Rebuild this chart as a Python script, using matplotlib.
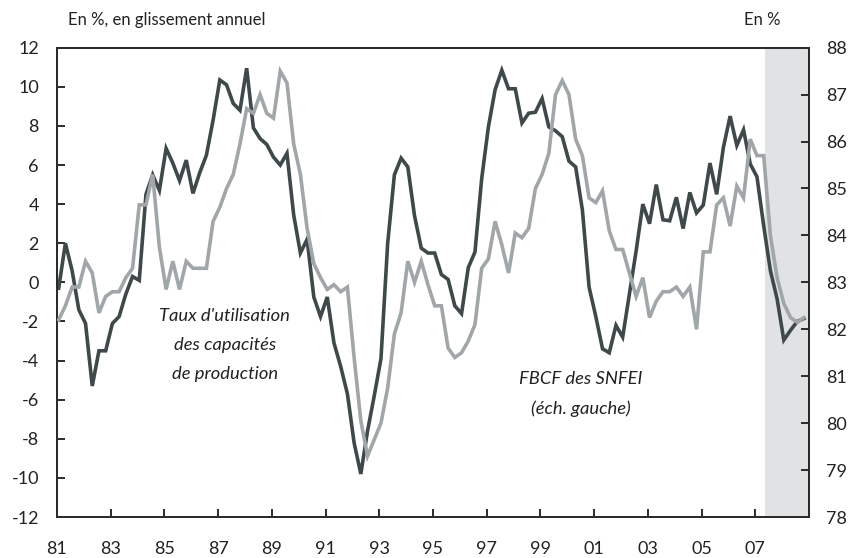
import matplotlib
matplotlib.use("Agg")
import matplotlib.pyplot as plt
import numpy as np

plt.rcParams['font.family'] = ['Lato', 'DejaVu Sans']
plt.rcParams['axes.unicode_minus'] = False

# Quarterly data, 1981Q1 .. 2008Q4
start_year = 1981
# FBCF des SNFEI, glissement annuel en % (left axis)
fbcf = [
    -0.3, 2.0, 0.6, -1.4, -2.1, -5.3, -3.5, -3.5, -2.1, -1.75,
    -0.6, 0.3, 0.1, 4.5, 5.5, 4.7, 6.85, 6.1, 5.2, 6.25,
    4.55, 5.6, 6.5, 8.3, 10.35, 10.1, 9.15, 8.8, 10.95, 7.9,
    7.35, 7.05, 6.4, 6.0, 6.6, 3.45, 1.5, 2.2, -0.75, -1.75,
    -0.75, -3.1, -4.3, -5.7, -8.2, -9.8, -7.6, -5.8, -3.9, 2.0,
    5.5, 6.35, 5.9, 3.4, 1.75, 1.5, 1.5, 0.4, 0.15, -1.2,
    -1.6, 0.75, 1.55, 5.3, 7.95, 9.85, 10.85, 9.9, 9.9, 8.15,
    8.65, 8.7, 9.4, 7.95, 7.75, 7.45, 6.2, 5.9, 3.7, -0.25,
    -1.75, -3.4, -3.6, -2.2, -2.8, -0.6, 1.6, 4.0, 3.0, 5.0,
    3.2, 3.15, 4.35, 2.75, 4.6, 3.55, 3.95, 6.1, 4.5, 6.9,
    8.5, 7.0, 7.8, 6.05, 5.4, 2.9, 0.6, -0.85, -2.95, -2.45,
    -2.0, -1.85,
]
# Taux d'utilisation des capacités de production, en % (right axis)
tuc = [
    82.2, 82.5, 82.9, 82.9, 83.45, 83.2, 82.35, 82.7, 82.8, 82.8,
    83.1, 83.3, 84.65, 84.65, 85.3, 83.75, 82.85, 83.45, 82.85, 83.45,
    83.3, 83.3, 83.3, 84.3, 84.6, 85.0, 85.3, 85.95, 86.7, 86.6,
    87.0, 86.6, 86.5, 87.5, 87.25, 85.95, 85.3, 84.15, 83.4, 83.1,
    82.85, 82.95, 82.8, 82.9, 81.4, 80.05, 79.3, 79.65, 80.0, 80.75,
    81.9, 82.35, 83.45, 83.0, 83.45, 82.95, 82.5, 82.5, 81.6, 81.4,
    81.5, 81.75, 82.1, 83.3, 83.5, 84.3, 83.8, 83.2, 84.05, 83.95,
    84.15, 85.0, 85.3, 85.75, 87.0, 87.3, 87.0, 86.05, 85.7, 84.8,
    84.7, 84.95, 84.1, 83.7, 83.7, 83.2, 82.7, 83.1, 82.25, 82.6,
    82.8, 82.8, 82.9, 82.7, 82.9, 82.0, 83.65, 83.65, 84.65, 84.8,
    84.2, 85.05, 84.8, 86.05, 85.7, 85.7, 84.0, 83.1, 82.55, 82.25,
    82.15, 82.25,
]
x_tick_years = list(range(1981, 2008, 2))
x_tick_labels = ['81', '83', '85', '87', '89', '91', '93', '95', '97', '99',
                 '01', '03', '05', '07']
left_ticks = list(range(-12, 13, 2))
right_ticks = list(range(78, 89))
forecast_start = 2007.375
x_end = 2009.0

label_tuc = "Taux d'utilisation\ndes capacités\nde production"
label_fbcf = "FBCF des SNFEI\n(éch. gauche)"

dark = '#3f494a'
light = '#a1a6a9'
shade = '#e1e2e4'
axis_col = '#2b2b2b'
text_col = '#222222'

n = len(fbcf)
x = start_year + (np.arange(n) + 0.25) / 4.0

fig = plt.figure(figsize=(8.5, 5.58), dpi=100)
ax = fig.add_axes([57 / 850, 1 - 517 / 558, (809 - 57) / 850, (517 - 47.7) / 558])
ax2 = ax.twinx()

ax.axvspan(forecast_start, x_end, color=shade, lw=0, zorder=0)
ax.plot(x, fbcf, color=dark, lw=2.6, solid_joinstyle='miter', zorder=3)
ax2.plot(x, tuc, color=light, lw=2.6, solid_joinstyle='miter', zorder=3)

ax.set_xlim(start_year, x_end)
ax.set_ylim(-12, 12)
ax2.set_ylim(78, 88)

ax.set_xticks(x_tick_years)
ax.set_xticklabels(x_tick_labels)
ax.set_yticks(left_ticks)
ax2.set_yticks(right_ticks)

ax.tick_params(axis='x', direction='in', length=6, width=1.4, pad=17,
               labelsize=13, colors=axis_col, labelcolor=text_col, top=False)
ax.tick_params(axis='y', direction='in', length=6, width=1.4, pad=13,
               labelsize=13, colors=axis_col, labelcolor=text_col, right=False)
ax2.tick_params(axis='y', direction='in', length=6, width=1.4, pad=12,
                labelsize=13, colors=axis_col, labelcolor=text_col)

for a in (ax, ax2):
    for s in a.spines.values():
        s.set_color(axis_col)
        s.set_linewidth(1.3)

ax.text(1987.25, -3.2, label_tuc, ha='center', va='center', style='italic',
        fontsize=13.2, color=text_col, linespacing=2.0, zorder=5)
ax.text(2000.5, -5.7, label_fbcf, ha='center', va='center', style='italic',
        fontsize=13.2, color=text_col, linespacing=2.0, zorder=5)

fig.text(68 / 850, 1 - 20 / 558, "En %, en glissement annuel", ha='left',
         va='center', fontsize=12, color=text_col)
fig.text(781 / 850, 1 - 20 / 558, "En %", ha='right', va='center',
         fontsize=12, color=text_col)

fig.savefig('out.png', dpi=100)
